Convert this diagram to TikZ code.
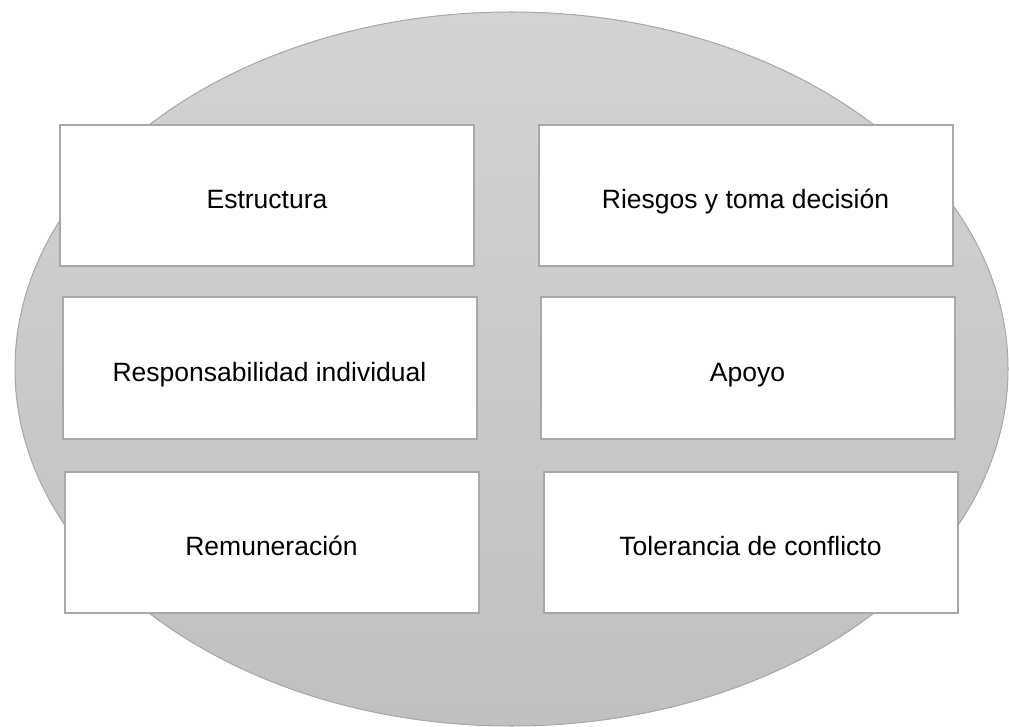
\documentclass[tikz,border=0pt]{standalone}
\usepackage{fontspec}
\setmainfont{Liberation Sans}
\definecolor{ellTop}{HTML}{D3D3D3}
\definecolor{ellBot}{HTML}{C0C0C0}
\definecolor{edgeGray}{HTML}{A8A8A8}
\tikzset{
  itembox/.style={draw=edgeGray, line width=2pt, fill=white, rectangle,
    minimum width=414pt, minimum height=141pt, inner sep=0pt,
    text height=26pt, text depth=0pt,
    font=\fontsize{26.5}{30}\selectfont, text=black},
}
\begin{document}
\begin{tikzpicture}[x=1pt,y=-1pt]
\useasboundingbox (0,0) rectangle (1009,727);
\fill[top color=ellTop, bottom color=ellBot, draw=edgeGray, line width=1pt]
  (511.5,369) ellipse [x radius=496.5, y radius=357];
\node[itembox] (estr) at (267,196) {Estructura};
\node[itembox] (ries) at (745.5,196) {Riesgos y toma decisión};
\node[itembox] (resp) at (269.5,368) {Responsabilidad individual};
\node[itembox] (apoy) at (747.5,368) {Apoyo};
\node[itembox] (remu) at (271.5,542) {Remuneración};
\node[itembox] (tole) at (750.5,542) {Tolerancia de conflicto};
\end{tikzpicture}
\end{document}
